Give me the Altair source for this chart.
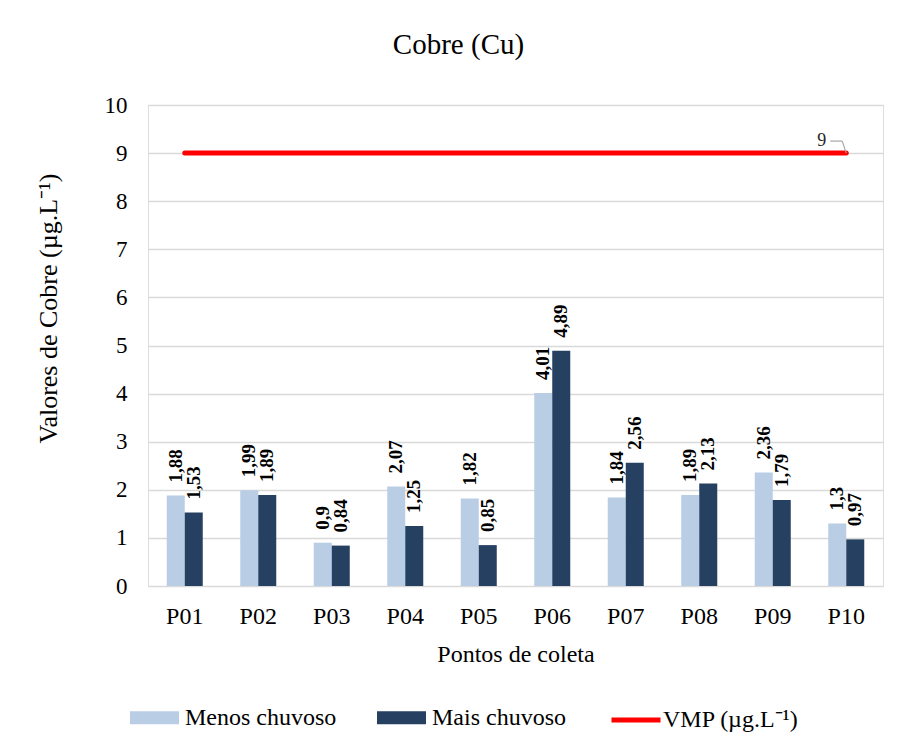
import altair as alt
import pandas as pd

# Pontos de coleta e concentrações de cobre (µg/L) por período
pontos = ["P01", "P02", "P03", "P04", "P05", "P06", "P07", "P08", "P09", "P10"]
menos_chuvoso = [1.88, 1.99, 0.9, 2.07, 1.82, 4.01, 1.84, 1.89, 2.36, 1.3]
mais_chuvoso = [1.53, 1.89, 0.84, 1.25, 0.85, 4.89, 2.56, 2.13, 1.79, 0.97]
vmp = [9, 9, 9, 9, 9, 9, 9, 9, 9, 9]

serie_menos = "Menos chuvoso"
serie_mais = "Mais chuvoso"
serie_vmp = "VMP (µg.L⁻¹)"
cores_barras = ["#B9CDE5", "#254061"]
cor_vmp = "#FF0000"

FONT = "Liberation Serif"

rows = []
for p, a, b in zip(pontos, menos_chuvoso, mais_chuvoso):
    rows.append({"ponto": p, "serie": serie_menos, "valor": a})
    rows.append({"ponto": p, "serie": serie_mais, "valor": b})
barras = pd.DataFrame(rows)
barras["rotulo"] = barras["valor"].map(lambda v: f"{v:g}".replace(".", ","))

linha = pd.DataFrame({"ponto": pontos, "serie": serie_vmp, "valor": vmp})

x_enc = alt.X(
    "ponto:N",
    sort=pontos,
    scale=alt.Scale(paddingInner=0.51, paddingOuter=0.255),
    axis=alt.Axis(
        title="Pontos de coleta",
        labelAngle=0,
        labelFont=FONT,
        labelFontSize=24,
        labelColor="black",
        labelPadding=18,
        ticks=False,
        domain=False,
        titleFont=FONT,
        titleFontSize=24,
        titleFontWeight="normal",
        titleColor="black",
        titlePadding=14,
    ),
)

y_enc = alt.Y(
    "valor:Q",
    scale=alt.Scale(domain=[0, 10]),
    axis=alt.Axis(
        title="Valores de Cobre (µg.L⁻¹)",
        values=list(range(11)),
        labelFont=FONT,
        labelFontSize=23,
        labelColor="black",
        labelPadding=21,
        ticks=False,
        domain=False,
        grid=True,
        gridColor="#D9D9D9",
        gridWidth=1.5,
        titleFont=FONT,
        titleFontSize=26,
        titleFontWeight="normal",
        titleColor="black",
        titleAngle=270,
        titleX=-100,
        titleY=203,
        titleAlign="center",
        titleBaseline="middle",
    ),
)

legend_common = dict(
    orient="none",
    direction="horizontal",
    title=None,
    labelFont=FONT,
    labelFontSize=24,
    labelColor="black",
    columnPadding=40,
    symbolSize=2401,
    legendY=588,
)

color_enc = alt.Color(
    "serie:N",
    scale=alt.Scale(domain=[serie_menos, serie_mais], range=cores_barras),
    sort=[serie_menos, serie_mais],
    legend=alt.Legend(
        legendX=-18,
        labelOffset=6,
        symbolType="M-1,-0.27H1V0.27H-1Z",
        symbolStrokeWidth=0,
        **legend_common,
    ),
)

stroke_enc = alt.Stroke(
    "serie:N",
    scale=alt.Scale(domain=[serie_vmp], range=[cor_vmp]),
    legend=alt.Legend(
        legendX=461,
        labelOffset=0,
        symbolType="stroke",
        symbolStrokeWidth=5,
        **legend_common,
    ),
)

xoff = alt.XOffset("serie:N", sort=[serie_menos, serie_mais])

bars = alt.Chart(barras).mark_bar().encode(
    x=x_enc, xOffset=xoff, y=y_enc, color=color_enc
)

bar_labels = alt.Chart(barras).mark_text(
    angle=270, align="left", baseline="middle", yOffset=-13,
    font=FONT, fontSize=19, fontWeight="bold", color="black",
).encode(x=alt.X("ponto:N", sort=pontos), xOffset=xoff, y="valor:Q", text="rotulo:N")

vmp_line = alt.Chart(linha).mark_line(
    strokeWidth=5, strokeCap="round"
).encode(x=alt.X("ponto:N", sort=pontos), y="valor:Q", stroke=stroke_enc)

ultimo = alt.Chart(linha).transform_filter(alt.datum.ponto == "P10")

vmp_label = ultimo.mark_text(
    align="right", baseline="middle", dx=-20, dy=-12,
    font=FONT, fontSize=18, color="#262626",
).encode(x=alt.X("ponto:N", sort=pontos), y="valor:Q", text="valor:Q")

leader_h = ultimo.mark_rule(
    color="#A6A6A6", strokeWidth=1.2,
    xOffset=-16, x2Offset=-4, yOffset=-12, y2Offset=-12,
).encode(
    x=alt.X("ponto:N", sort=pontos, bandPosition=0.5),
    x2=alt.X2("ponto", bandPosition=0.5),
    y="valor:Q",
    y2="valor",
)

leader_d = ultimo.mark_rule(
    color="#A6A6A6", strokeWidth=1.2,
    xOffset=-4, x2Offset=0, yOffset=-12, y2Offset=0,
).encode(
    x=alt.X("ponto:N", sort=pontos, bandPosition=0.5),
    x2=alt.X2("ponto", bandPosition=0.5),
    y="valor:Q",
    y2="valor",
)

chart = (
    alt.layer(bars, bar_labels, vmp_line, leader_h, leader_d, vmp_label)
    .resolve_legend(color="independent", stroke="independent")
    .properties(
        width=735,
        height=481,
        title=alt.TitleParams(
            "Cobre (Cu)", font=FONT, fontSize=29, fontWeight="normal",
            color="black", anchor="middle", dx=-57, offset=34,
        ),
        autosize=alt.AutoSizeParams(type="none"),
        padding={"left": 148, "top": 105, "right": 16, "bottom": 159},
    )
    .configure_view(stroke=None)
    .configure(background="white")
)

chart.save("out.html", embed_options={"renderer": "svg", "actions": False})
